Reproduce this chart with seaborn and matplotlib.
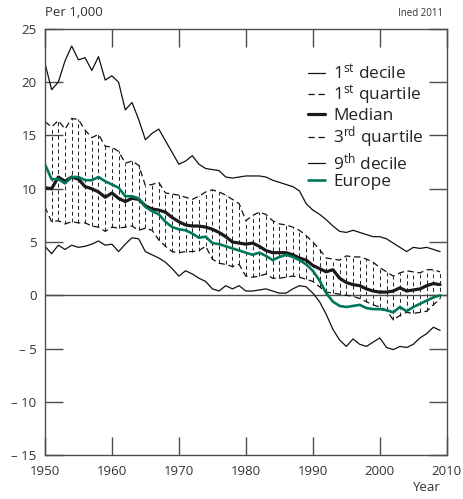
import seaborn as sns
import matplotlib.pyplot as plt
import pandas as pd

years = list(range(1950, 2010))

decile1 = [21.8, 19.3, 20.0, 22.0, 23.4, 22.1, 22.3, 21.1, 22.4, 20.2,
           20.6, 20.0, 17.4, 18.1, 16.5, 14.6, 15.2, 15.6, 14.5, 13.4,
           12.3, 12.6, 13.1, 12.3, 11.9, 11.8, 11.7, 11.1, 11.0, 11.1,
           11.2, 11.2, 11.2, 11.1, 10.8, 10.6, 10.4, 10.2, 9.8, 8.6,
           8.0, 7.6, 7.1, 6.5, 6.0, 5.9, 6.1, 5.9, 5.7, 5.5,
           5.5, 5.3, 4.9, 4.5, 4.1, 4.5, 4.4, 4.5, 4.3, 4.1]

quartile1 = [16.3, 15.8, 16.4, 15.6, 16.6, 16.5, 15.5, 14.8, 15.1, 14.0,
             13.9, 13.5, 12.4, 12.6, 12.2, 10.3, 10.4, 10.6, 9.6, 9.5,
             9.4, 9.2, 9.0, 9.3, 9.7, 9.9, 9.7, 9.4, 9.0, 8.6,
             7.0, 7.5, 7.8, 7.6, 7.0, 6.7, 6.6, 6.4, 6.1, 5.6,
             5.0, 4.3, 3.5, 3.4, 3.3, 3.7, 3.6, 3.6, 3.4, 3.1,
             2.6, 2.2, 1.8, 2.1, 2.3, 2.2, 2.1, 2.4, 2.4, 2.2]

median = [10.1, 10.0, 11.1, 10.7, 11.1, 10.9, 10.2, 10.0, 9.7, 9.2,
          9.6, 9.1, 8.8, 9.1, 9.0, 8.4, 8.1, 8.0, 7.8, 7.3,
          6.9, 6.6, 6.5, 6.5, 6.4, 6.2, 5.9, 5.5, 5.0, 4.9,
          4.8, 4.9, 4.6, 4.2, 4.0, 4.0, 4.0, 3.8, 3.5, 3.3,
          2.8, 2.5, 2.2, 2.4, 1.6, 1.2, 1.0, 0.9, 0.6, 0.4,
          0.3, 0.3, 0.4, 0.7, 0.4, 0.5, 0.6, 0.9, 1.1, 1.0]

quartile3 = [8.3, 6.9, 7.0, 6.7, 6.9, 6.8, 6.8, 6.5, 6.4, 6.0,
             6.4, 6.3, 6.4, 6.5, 6.1, 6.3, 6.1, 5.2, 4.6, 4.1,
             4.0, 4.1, 4.1, 4.2, 4.6, 3.4, 3.0, 2.9, 2.7, 2.9,
             1.8, 1.7, 1.8, 2.0, 1.6, 1.6, 1.7, 1.8, 1.7, 1.5,
             1.3, 0.8, 0.3, 0.2, 0.1, 0.0, -0.1, -0.3, -0.6, -0.9,
             -1.1, -1.4, -2.3, -1.9, -1.6, -1.7, -1.6, -1.5, -0.9, -0.3]

decile9 = [4.6, 3.9, 4.7, 4.3, 4.7, 4.5, 4.6, 4.8, 5.1, 4.7,
           4.8, 4.1, 4.8, 5.4, 5.3, 4.1, 3.8, 3.5, 3.1, 2.5,
           1.8, 2.3, 2.0, 1.6, 1.3, 0.6, 0.4, 0.9, 0.6, 0.9,
           0.4, 0.4, 0.5, 0.6, 0.4, 0.2, 0.2, 0.6, 0.9, 0.8,
           0.2, -0.6, -1.8, -3.2, -4.2, -4.8, -4.1, -4.6, -4.8, -4.4,
           -4.0, -4.9, -5.1, -4.8, -4.9, -4.6, -4.0, -3.6, -3.0, -3.3]

europe = [12.3, 10.9, 10.9, 10.5, 11.1, 11.1, 10.8, 10.8, 11.1, 10.7,
          10.4, 10.1, 9.3, 9.3, 9.1, 8.3, 7.9, 7.6, 6.9, 6.4,
          6.2, 6.1, 5.8, 5.4, 5.5, 4.9, 4.8, 4.6, 4.4, 4.2,
          4.0, 3.8, 4.0, 3.7, 3.3, 3.6, 3.8, 3.6, 3.3, 2.9,
          2.3, 1.4, 0.2, -0.6, -1.0, -1.1, -1.0, -0.9, -1.2, -1.3,
          -1.3, -1.4, -1.6, -1.1, -1.5, -1.1, -0.8, -0.5, -0.2, 0.0]

y_ticks = [-15, -10, -5, 0, 5, 10, 15, 20, 25]
y_labels = ["\u2013 15", "\u2013 10", "\u2013 5", "0", "5", "10", "15", "20", "25"]
x_ticks = [1950, 1960, 1970, 1980, 1990, 2000, 2010]

df = pd.DataFrame({"year": years, "d1": decile1, "q1": quartile1, "med": median,
                   "q3": quartile3, "d9": decile9, "eu": europe})

sns.set_style("ticks")
plt.rcParams["font.family"] = ["Open Sans", "DejaVu Sans"]
plt.rcParams["mathtext.fontset"] = "custom"
plt.rcParams["mathtext.rm"] = "Open Sans"
plt.rcParams["mathtext.default"] = "regular"

grey = "#4d4d4d"
green = "#00775a"

fig = plt.figure(figsize=(4.63, 4.99), dpi=100)
ax = fig.add_axes([0.097, 0.088, 0.868, 0.854])

# vertical dashed hatching between quartiles
ax.vlines(df["year"], df["q3"], df["q1"], colors="#222222", lw=0.7,
          linestyles=(0, (4, 3)))
ax.axhline(0, color=grey, lw=1.0)

sns.lineplot(data=df, x="year", y="d1", ax=ax, color="#111111", lw=0.9,
             label="1$^{st}$ decile")
sns.lineplot(data=df, x="year", y="q1", ax=ax, color="#111111", lw=0.9,
             linestyle=(0, (5, 3)), label="1$^{st}$ quartile")
sns.lineplot(data=df, x="year", y="med", ax=ax, color="#1a1a1a", lw=2.3,
             label="Median")
sns.lineplot(data=df, x="year", y="q3", ax=ax, color="#111111", lw=0.9,
             linestyle=(0, (5, 3)), label="3$^{rd}$ quartile")
sns.lineplot(data=df, x="year", y="d9", ax=ax, color="#111111", lw=0.9,
             label="9$^{th}$ decile")
sns.lineplot(data=df, x="year", y="eu", ax=ax, color=green, lw=1.9,
             label="Europe")

ax.set_xlim(1950, 2010)
ax.set_ylim(-15, 25)
ax.set_xticks(x_ticks)
ax.set_yticks(y_ticks)
ax.set_yticklabels(y_labels)
ax.set_xlabel("")
ax.set_ylabel("")

for s in ax.spines.values():
    s.set_visible(True)
    s.set_color(grey)
    s.set_linewidth(1.0)
ax.tick_params(direction="in", length=13, width=1.0, color=grey,
               labelsize=9.5, labelcolor="#333333", top=True, right=True)
ax.tick_params(axis="x", pad=7)
ax.tick_params(axis="y", pad=6)

leg = ax.legend(loc="upper right", bbox_to_anchor=(0.965, 0.94), frameon=False,
                fontsize=12.4, handlelength=1.0, handletextpad=0.5,
                labelspacing=0.04, borderpad=0)
for t in leg.get_texts():
    t.set_color("#222222")

fig.text(0.097, 0.962, "Per 1,000", fontsize=9.5, color="#333333",
         ha="left", va="bottom")
fig.text(0.957, 0.962, "Ined 2011", fontsize=7, color="#333333",
         ha="right", va="bottom")
fig.text(0.95, 0.01, "Year", fontsize=9.5, color="#333333",
         ha="right", va="bottom")

fig.savefig("out.png", dpi=100)
